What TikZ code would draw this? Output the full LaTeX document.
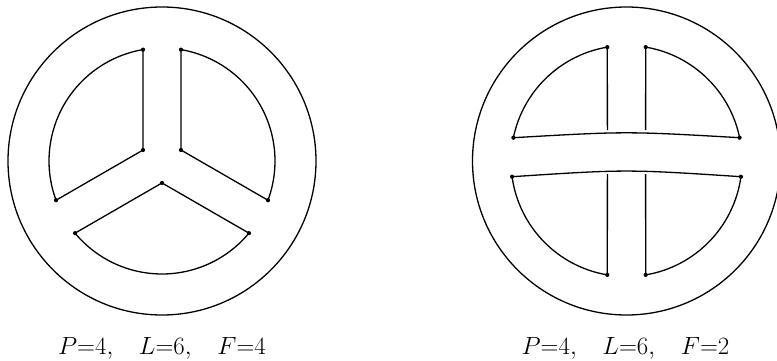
\documentclass[tikz,border=0pt]{standalone}
\usetikzlibrary{calc}
\begin{document}
\begin{tikzpicture}[x=1pt,y=1pt,line width=1.3pt,line join=round,
  dot/.style={circle,fill=black,minimum size=4.2pt,inner sep=0pt},
  lab/.style={anchor=base,inner sep=0pt,font=\fontsize{27}{31}\selectfont}]
\useasboundingbox (0,0) rectangle (777,360);
\clip (0,0) rectangle (777,360);
% ---------- left figure ----------
\coordinate (LC) at (162,199);
\draw (LC) circle[radius=154];
\coordinate (L1) at ($(LC)+(99.68:113)$);
\coordinate (L2) at ($(LC)+(200.32:113)$);
\coordinate (L3) at ($(LC)+(150:21.94)$);
\coordinate (L4) at ($(LC)+(80.32:113)$);
\coordinate (L5) at ($(LC)+(339.68:113)$);
\coordinate (L6) at ($(LC)+(30:21.94)$);
\coordinate (L7) at ($(LC)+(219.68:113)$);
\coordinate (L8) at ($(LC)+(320.32:113)$);
\coordinate (L9) at ($(LC)+(270:21.94)$);
\draw (L1) arc[start angle=99.68,end angle=200.32,radius=113] -- (L3) -- cycle;
\draw (L5) arc[start angle=-20.32,end angle=80.32,radius=113] -- (L6) -- cycle;
\draw (L7) arc[start angle=219.68,end angle=320.32,radius=113] -- (L9) -- cycle;
\foreach \p in {L1,L2,L3,L4,L5,L6,L7,L8,L9} \node[dot] at (\p) {};
% ---------- right figure ----------
\coordinate (RC) at (626.5,199);
\draw (RC) circle[radius=154];
\coordinate (R1) at ($(RC)+(99.57:115.5)$);
\coordinate (R2) at ($(RC)+(168.36:115.5)$);
\coordinate (R3) at ($(RC)+(80.43:115.5)$);
\coordinate (R4) at ($(RC)+(11.64:115.5)$);
\coordinate (R5) at ($(RC)+(187.81:115.5)$);
\coordinate (R6) at ($(RC)+(260.43:115.5)$);
\coordinate (R7) at ($(RC)+(279.57:115.5)$);
\coordinate (R8) at ($(RC)+(352.19:115.5)$);
\coordinate (RU1) at ($(RC)+(-19.1,31)$);
\coordinate (RU3) at ($(RC)+(19.1,31)$);
\coordinate (RD6) at ($(RC)+(-19.1,-13)$);
\coordinate (RD7) at ($(RC)+(19.1,-13)$);
\draw (R1) arc[start angle=99.57,end angle=168.36,radius=115.5];
\draw (R4) arc[start angle=11.64,end angle=80.43,radius=115.5];
\draw (R5) arc[start angle=187.81,end angle=260.43,radius=115.5];
\draw (R7) arc[start angle=279.57,end angle=352.19,radius=115.5];
\draw (R1) -- (RU1);
\draw (R3) -- (RU3);
\draw (RD6) -- (R6);
\draw (RD7) -- (R7);
\draw (R2) .. controls ($(RC)+(0,29.8)$) .. (R4);
\draw (R5) .. controls ($(RC)+(0,-8.2)$) .. (R8);
\foreach \p in {R1,R2,R3,R4,R5,R6,R7,R8} \node[dot] at (\p) {};
% ---------- labels ----------
\node[lab] (labA) at (162,5.5) {$P{=}4,\hspace{0.8em}L{=}6,\hspace{0.8em}F{=}4$};
\node[lab] (labB) at (625.5,5.5) {$P{=}4,\hspace{0.8em}L{=}6,\hspace{0.8em}F{=}2$};
\end{tikzpicture}
\end{document}
